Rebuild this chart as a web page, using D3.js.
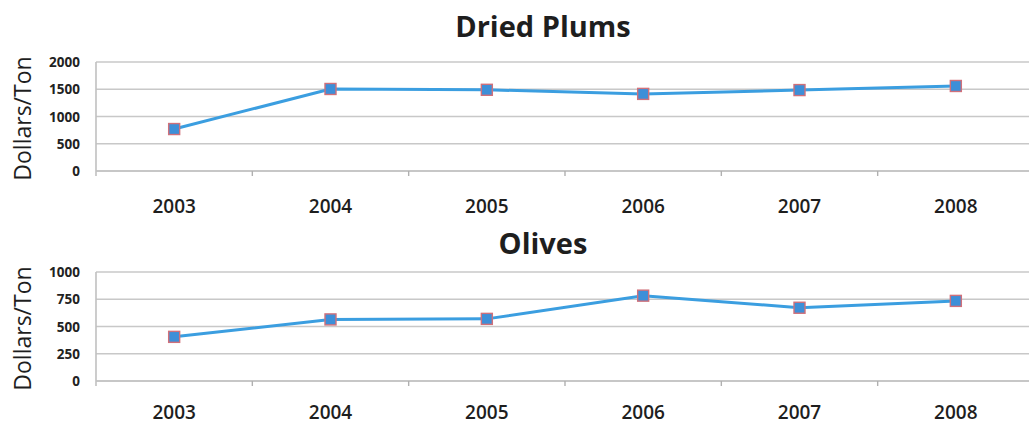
<!DOCTYPE html>
<html>
<head>
<meta charset="utf-8">
<script src="https://cdn.jsdelivr.net/npm/d3@7"></script>
<style>
  html, body { margin: 0; padding: 0; background: #fff; }
  svg { display: block; }
</style>
</head>
<body>
<svg id="chart" width="1029" height="428"></svg>
<script>
// Annual prices, dollars per ton
const years = ["2003", "2004", "2005", "2006", "2007", "2008"];
const driedPlums = [770, 1505, 1490, 1415, 1485, 1560];
const olives = [405, 565, 570, 783, 672, 735];
const plumTicks = [0, 500, 1000, 1500, 2000];
const oliveTicks = [0, 250, 500, 750, 1000];

const svg = d3.select("#chart");
const left = 96, right = 1034;

function panel(title, values, ticks, top, bottom, titleY, labelY) {
  const g = svg.append("g");
  const x = d3.scaleBand().domain(years).range([left, right]);
  const y = d3.scaleLinear().domain([0, d3.max(ticks)]).range([bottom, top]);

  // horizontal gridlines
  g.selectAll("line.grid").data(ticks).join("line")
    .attr("x1", left).attr("x2", 1029)
    .attr("y1", d => y(d)).attr("y2", d => y(d))
    .attr("stroke", d => d === 0 ? "#b4b4b4" : "#c8c8c8")
    .attr("stroke-width", 1.7);

  // vertical axis line
  g.append("line")
    .attr("x1", left).attr("x2", left)
    .attr("y1", top).attr("y2", bottom + 5)
    .attr("stroke", "#c0c0c0").attr("stroke-width", 1.6);

  // category boundary ticks
  g.selectAll("line.tick").data(years.slice(1)).join("line")
    .attr("x1", d => x(d)).attr("x2", d => x(d))
    .attr("y1", bottom).attr("y2", bottom + 5)
    .attr("stroke", "#b0b0b0").attr("stroke-width", 1.4);

  // y tick labels
  g.selectAll("text.ylab").data(ticks).join("text")
    .attr("x", 80).attr("y", d => y(d) + 5)
    .attr("text-anchor", "end")
    .attr("font-family", "Open Sans, sans-serif")
    .attr("font-weight", "bold")
    .attr("font-size", 13.5)
    .attr("fill", "#222")
    .text(d => d);

  // x labels
  g.selectAll("text.xlab").data(years).join("text")
    .attr("x", d => x(d) + x.bandwidth() / 2)
    .attr("y", labelY)
    .attr("text-anchor", "middle")
    .attr("font-family", "Open Sans, sans-serif")
    .attr("font-size", 19)
    .attr("font-weight", 600)
    .attr("fill", "#1e1e1e")
    .text(d => d);

  // axis title
  g.append("text")
    .attr("transform", `translate(31,${(top + bottom) / 2 + 2}) rotate(-90)`)
    .attr("text-anchor", "middle")
    .attr("font-family", "Open Sans, sans-serif")
    .attr("font-size", 23)
    .attr("fill", "#1e1e1e")
    .text("Dollars/Ton");

  // chart title
  g.append("text")
    .attr("x", 543).attr("y", titleY)
    .attr("text-anchor", "middle")
    .attr("font-family", "Open Sans, sans-serif")
    .attr("font-weight", "bold")
    .attr("font-size", 29)
    .attr("fill", "#1e1e1e")
    .text(title);

  const pts = years.map((yr, i) => [x(yr) + x.bandwidth() / 2, y(values[i])]);

  g.append("path")
    .attr("d", d3.line()(pts))
    .attr("fill", "none")
    .attr("stroke", "#3b9ee0")
    .attr("stroke-width", 3);

  g.selectAll("rect.marker").data(pts).join("rect")
    .attr("x", d => d[0] - 5.5).attr("y", d => d[1] - 5.5)
    .attr("width", 11).attr("height", 11)
    .attr("fill", "#3d8fd8")
    .attr("stroke", "#d0707a")
    .attr("stroke-width", 1.4);
}

panel("Dried Plums", driedPlums, plumTicks, 62, 171, 37, 213);
panel("Olives", olives, oliveTicks, 272, 381, 254, 419);
</script>
</body>
</html>
